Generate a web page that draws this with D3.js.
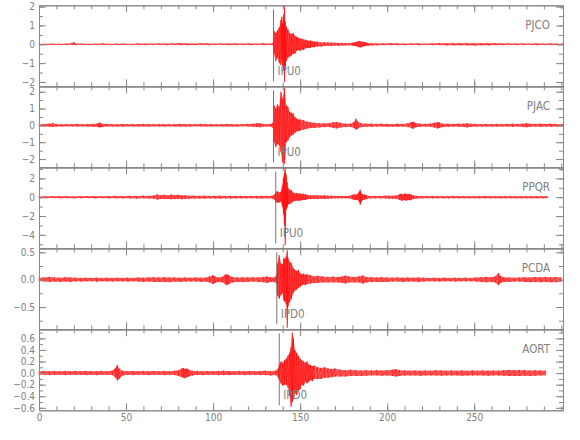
<!DOCTYPE html>
<html>
<head>
<meta charset="utf-8">
<script src="https://cdn.jsdelivr.net/npm/d3@7"></script>
<style>
  body { margin: 0; background: #fff; }
  text { font-family: "DejaVu Sans Condensed", "Liberation Sans Narrow", Roboto, sans-serif; font-weight: 300; fill: #808080; }
</style>
</head>
<body>
<svg width="580" height="440"></svg>
<script>
// station names, top to bottom
const STATIONS = ["PJCO", "PJAC", "PPQR", "PCDA", "AORT"];

// phase picks (seconds) and their labels
const PICK_TIMES = [134.7, 134.7, 136.0, 136.6, 138.0];
const PICK_LABELS = ["IPU0", "IPU0", "IPU0", "IPD0", "IPD0"];

// axis ranges and ticks
const X_DOMAIN = [0, 301];
const X_TICKS = [0, 50, 100, 150, 200, 250];
const X_MINOR = d3.range(0, 301, 10);
const Y_DOMAINS = [[-2.23, 2.07], [-2.49, 2.32], [-5.43, 3.18], [-0.907, 0.574], [-0.643, 0.757]];
const Y_TICKS = [
  [-2, -1, 0, 1, 2],
  [-2, -1, 0, 1, 2],
  [-4, -2, 0, 2],
  [-0.5, 0, 0.5],
  [-0.6, -0.4, -0.2, 0, 0.2, 0.4, 0.6]
];
const Y_MINOR = [
  [-2, -1.5, -1, -0.5, 0, 0.5, 1, 1.5, 2],
  [-2, -1.5, -1, -0.5, 0, 0.5, 1, 1.5, 2],
  [-5, -4, -3, -2, -1, 0, 1, 2, 3],
  [-0.75, -0.5, -0.25, 0, 0.25, 0.5],
  [-0.6, -0.5, -0.4, -0.3, -0.2, -0.1, 0, 0.1, 0.2, 0.3, 0.4, 0.5, 0.6, 0.7]
];

// traces: [time, max, min] per window
const PJCO = [[0,.03,-.03],[4,.02,-.03],[8,.03,-.02],[12,.02,-.03],[16,.03,-.03],[19,.06,-.03],[20,.12,-.04],[21,.04,-.03],[25,.03,-.02],[29,.02,-.03],[33,.03,-.03],[37,.04,-.02],[41,.02,-.03],[45,.03,-.03],[49,.03,-.02],[53,.02,-.03],[57,.04,-.03],[61,.03,-.04],[65,.03,-.03],[69,.04,-.03],[73,.03,-.04],[77,.04,-.03],[81,.05,-.04],[85,.04,-.04],[89,.03,-.04],[93,.05,-.03],[97,.04,-.04],[101,.03,-.03],[105,.04,-.03],[109,.03,-.04],[113,.04,-.03],[117,.03,-.03],[121,.04,-.04],[125,.03,-.03],[129,.04,-.04],[133,.03,-.03],[134.5,.05,-.04],
  [135,.7,-.5],[136,.6,-.9],[137,.75,-.7],[138,.9,-1.0],[139,1.3,-1.1],[139.5,1.47,-.8],[140,1.1,-1.16],[140.6,1.6,-1.4],[141,2.05,-2.0],[141.5,1.2,-1.3],[142,.95,-.9],[143,.8,-.72],[144,.6,-.65],[145,.55,-.6],[146,.6,-.5],[147,.45,-.5],[148,.4,-.35],[149,.35,-.3],[150,.3,-.35],[151,.3,-.28],[152,.25,-.3],[153,.24,-.22],[154,.22,-.2],[155,.18,-.2],[156,.2,-.18],[157,.16,-.15],[158,.15,-.16],[159,.14,-.12],[160,.14,-.12],[162,.1,-.12],[164,.11,-.09],[166,.1,-.08],[168,.08,-.09],[170,.08,-.07],[172,.07,-.08],[174,.07,-.06],[176,.06,-.06],[178,.06,-.05],[180,.08,-.07],[181,.1,-.09],[182,.12,-.1],[183,.15,-.13],[184,.18,-.16],[185,.15,-.17],[186,.13,-.12],[187,.12,-.1],[188,.09,-.08],[189,.07,-.08],[191,.05,-.05],[194,.04,-.05],[198,.04,-.04],[202,.05,-.04],[206,.04,-.04],[210,.03,-.04],[214,.04,-.03],[218,.04,-.04],[222,.03,-.03],[226,.04,-.04],[230,.05,-.04],[234,.05,-.05],[238,.06,-.05],[242,.05,-.05],[246,.06,-.05],[250,.05,-.06],[254,.05,-.05],[258,.06,-.05],[262,.05,-.04],[266,.04,-.04],[270,.04,-.03],[274,.03,-.04],[278,.04,-.03],[282,.03,-.03],[286,.04,-.04],[290,.03,-.03],[294,.04,-.03],[298,.03,-.04],[301,.03,-.03]];

const PJAC = [[0,.06,-.05],[3,.07,-.06],[6,.1,-.08],[8,.13,-.1],[10,.07,-.06],[13,.06,-.07],[16,.07,-.05],[19,.06,-.06],[22,.08,-.07],[25,.06,-.05],[28,.07,-.06],[31,.08,-.08],[34,.12,-.1],[35,.17,-.12],[36,.1,-.1],[39,.08,-.07],[42,.07,-.06],[45,.06,-.06],[48,.08,-.07],[51,.06,-.05],[54,.07,-.06],[57,.06,-.06],[60,.08,-.06],[63,.07,-.07],[66,.06,-.05],[69,.07,-.06],[72,.06,-.06],[75,.07,-.05],[78,.06,-.06],[81,.08,-.07],[84,.07,-.06],[87,.06,-.06],[90,.07,-.05],[93,.08,-.06],[96,.06,-.06],[99,.07,-.07],[102,.06,-.05],[105,.07,-.06],[108,.08,-.07],[111,.07,-.06],[114,.06,-.06],[117,.07,-.05],[120,.08,-.07],[123,.09,-.08],[125,.12,-.1],[127,.13,-.11],[129,.08,-.07],[131,.07,-.06],[133,.08,-.07],[134.5,.15,-.15],
  [135,1.2,-1.0],[136,1.0,-1.3],[137,1.24,-1.1],[138,1.1,-1.2],[139,2.0,-1.6],[140,1.6,-2.2],[141,2.25,-2.3],[142,1.2,-1.0],[143,1.1,-.9],[144,.8,-.7],[145,.75,-.6],[146,.7,-.55],[147,.5,-.45],[148,.4,-.35],[149,.35,-.35],[150,.35,-.3],[152,.3,-.25],[154,.22,-.2],[156,.18,-.15],[158,.15,-.15],[161,.13,-.12],[164,.12,-.1],[167,.12,-.1],[169,.18,-.15],[171,.2,-.18],[173,.15,-.12],[176,.1,-.1],[179,.1,-.08],[181,.2,-.15],[182,.4,-.25],[183,.25,-.2],[185,.12,-.1],[188,.1,-.08],
  [191,.09,-.08],[194,.08,-.07],[197,.09,-.07],[200,.08,-.08],[203,.07,-.07],[206,.09,-.08],[209,.08,-.07],[212,.12,-.1],[214,.2,-.17],[215,.22,-.2],[216,.15,-.12],[219,.09,-.08],[222,.08,-.07],[225,.1,-.08],[227,.16,-.13],[229,.2,-.18],[230,.17,-.15],[232,.1,-.09],[235,.09,-.08],[238,.08,-.07],[241,.09,-.08],[244,.1,-.09],[246,.13,-.12],[248,.1,-.08],[251,.08,-.07],[254,.07,-.07],[257,.08,-.06],[260,.07,-.07],[263,.08,-.07],[266,.07,-.06],[269,.08,-.07],[272,.09,-.08],[275,.08,-.07],[278,.1,-.09],[280,.13,-.11],[282,.09,-.08],[285,.08,-.07],[288,.09,-.08],[291,.08,-.07],[294,.09,-.08],[297,.08,-.07],[301,.07,-.07]];

const PPQR = [[0,.1,-.1],[4,.08,-.09],[8,.1,-.08],[12,.09,-.1],[16,.1,-.09],[20,.08,-.1],[24,.1,-.09],[28,.09,-.08],[32,.1,-.1],[36,.09,-.09],[40,.1,-.1],[44,.12,-.1],[48,.1,-.11],[52,.14,-.12],[56,.12,-.13],[60,.15,-.12],[63,.13,-.14],[66,.18,-.15],[68,.3,-.25],[70,.2,-.18],[72,.25,-.2],[74,.18,-.2],[76,.28,-.22],[78,.2,-.2],[80,.25,-.18],[82,.2,-.22],[84,.22,-.18],[86,.15,-.15],[89,.16,-.14],[92,.14,-.13],[95,.15,-.14],[98,.13,-.12],[101,.14,-.13],[104,.15,-.14],[107,.13,-.12],[110,.14,-.13],[113,.12,-.12],[116,.13,-.12],[119,.12,-.11],[122,.13,-.12],[125,.12,-.12],[128,.14,-.13],[131,.13,-.12],[134,.15,-.14],[135.5,.3,-.3],
  [136,.55,-.5],[137,.64,-.6],[138,.5,-.55],[139,.6,-.5],[139.8,1.2,-1.0],[140.4,2.1,-1.85],[141,2.6,-3.0],[141.4,3.15,-5.1],[142,2.4,-1.3],[142.6,1.6,-1.1],[143,1.0,-.8],[144,.8,-.7],[145,.75,-.65],[146,.5,-.45],[147,.4,-.4],[148,.45,-.35],[149,.38,-.4],[150,.4,-.35],[151,.35,-.32],[152,.38,-.3],[153,.3,-.3],[154,.25,-.22],[156,.2,-.2],[158,.22,-.18],[160,.2,-.2],[162,.18,-.16],[164,.2,-.18],[166,.16,-.15],[168,.15,-.14],[170,.13,-.12],[172,.12,-.12],[174,.13,-.11],[176,.12,-.12],[178,.13,-.12],[180,.25,-.22],[181,.3,-.28],[182,.28,-.3],[183,.35,-.3],[184,.6,-.5],[184.5,.8,-.8],[185,.5,-.55],[186,.3,-.3],[187,.28,-.25],[188,.2,-.2],
  [190,.13,-.12],[193,.12,-.12],[196,.13,-.12],[199,.15,-.14],[201,.16,-.15],[203,.15,-.16],[205,.17,-.15],[207,.3,-.28],[208,.38,-.35],[209,.3,-.36],[210,.4,-.3],[211,.35,-.38],[212,.32,-.3],[213,.36,-.33],[214,.25,-.25],[215,.2,-.2],[217,.14,-.13],[220,.12,-.12],[223,.11,-.1],[226,.12,-.11],[229,.1,-.1],[232,.11,-.1],[235,.1,-.11],[238,.12,-.1],[241,.1,-.1],[244,.11,-.1],[247,.1,-.1],[250,.11,-.1],[253,.1,-.11],[256,.12,-.1],[259,.1,-.1],[262,.11,-.1],[265,.1,-.1],[268,.11,-.1],[271,.1,-.1],[274,.1,-.11],[277,.11,-.1],[280,.1,-.1],[283,.11,-.1],[286,.1,-.1],[289,.1,-.1],[292,.1,-.1]];

const PCDA = [[0,.035,-.03],[3,.04,-.035],[6,.05,-.04],[9,.04,-.035],[12,.035,-.04],[15,.045,-.035],[18,.04,-.04],[21,.035,-.03],[24,.03,-.035],[27,.035,-.03],[30,.03,-.03],[33,.035,-.035],[36,.03,-.03],[39,.035,-.03],[42,.03,-.035],[45,.035,-.03],[48,.03,-.03],[51,.035,-.035],[54,.03,-.03],[57,.04,-.035],[60,.035,-.04],[63,.04,-.035],[66,.045,-.04],[69,.04,-.04],[72,.045,-.04],[75,.04,-.045],[78,.04,-.035],[81,.035,-.04],[84,.04,-.035],[87,.035,-.035],[90,.04,-.035],[93,.035,-.04],[96,.04,-.035],[98,.06,-.05],[100,.08,-.08],[101,.06,-.06],[103,.04,-.04],[105,.05,-.045],[107,.09,-.08],[108,.1,-.1],[109,.08,-.08],[111,.05,-.05],[114,.04,-.04],[117,.045,-.04],[120,.04,-.04],[123,.045,-.035],[126,.04,-.04],[129,.05,-.045],[131,.06,-.06],[133,.045,-.04],[135,.04,-.04],[136.5,.08,-.07],
  [137,.3,-.29],[138,.45,-.35],[139,.3,-.28],[140,.28,-.25],[140.6,.4,-.38],[141.2,.38,-.4],[142,.42,-.45],[142.6,.54,-.88],[143,.4,-.5],[144,.33,-.41],[145,.3,-.35],[146,.22,-.25],[147,.18,-.2],[148,.16,-.18],[149,.18,-.15],[150,.12,-.13],[151,.1,-.1],[152,.11,-.09],[153,.09,-.1],[154,.1,-.08],[156,.08,-.07],[158,.06,-.06],[160,.07,-.06],[163,.06,-.05],[166,.05,-.05],[169,.055,-.05],[172,.05,-.05],[174,.06,-.055],[176,.075,-.07],[178,.06,-.05],[181,.05,-.05],[184,.06,-.05],[186,.075,-.07],[188,.05,-.05],
  [191,.045,-.04],[194,.04,-.04],[197,.045,-.04],[200,.04,-.04],[203,.035,-.035],[206,.04,-.035],[209,.035,-.04],[212,.04,-.035],[215,.035,-.035],[218,.04,-.04],[221,.035,-.035],[224,.03,-.03],[227,.035,-.03],[230,.03,-.035],[233,.035,-.03],[236,.03,-.03],[239,.035,-.035],[242,.03,-.03],[245,.035,-.03],[248,.03,-.03],[251,.04,-.035],[254,.045,-.04],[257,.05,-.045],[260,.045,-.04],[262,.06,-.05],[264,.12,-.1],[265,.07,-.06],[267,.045,-.04],[270,.04,-.04],[273,.035,-.035],[276,.04,-.035],[279,.045,-.04],[282,.04,-.045],[285,.05,-.04],[288,.045,-.045],[291,.05,-.04],[294,.045,-.045],[297,.05,-.045],[300,.04,-.04]];

const AORT = [[0,.03,-.03],[3,.035,-.03],[6,.03,-.035],[9,.035,-.03],[12,.03,-.03],[15,.035,-.035],[18,.03,-.03],[21,.035,-.03],[24,.03,-.03],[27,.035,-.035],[30,.03,-.03],[33,.03,-.035],[36,.035,-.03],[39,.03,-.03],[42,.04,-.035],[44,.09,-.08],[45,.14,-.13],[46,.08,-.1],[48,.04,-.04],[51,.03,-.03],[54,.035,-.035],[57,.03,-.03],[60,.035,-.03],[63,.03,-.035],[66,.035,-.03],[69,.03,-.03],[72,.035,-.035],[75,.03,-.03],[78,.04,-.035],[80,.05,-.05],[82,.08,-.07],[83,.09,-.08],[84,.07,-.09],[85,.08,-.07],[86,.06,-.06],[88,.04,-.04],[91,.035,-.03],[94,.03,-.035],[97,.035,-.03],[100,.03,-.03],[103,.035,-.035],[106,.04,-.035],[109,.035,-.035],[112,.03,-.03],[115,.035,-.03],[118,.03,-.035],[121,.035,-.03],[124,.03,-.03],[127,.035,-.035],[130,.04,-.035],[133,.035,-.04],[136,.04,-.035],[137.5,.08,-.08],
  [138,.15,-.12],[139,.2,-.18],[140,.18,-.22],[141,.22,-.2],[142,.25,-.2],[143,.3,-.25],[144,.35,-.4],[144.8,.45,-.58],[145.5,.7,-.5],[146.2,.6,-.45],[147,.4,-.35],[148,.35,-.38],[149,.3,-.3],[150,.25,-.28],[151,.22,-.2],[152,.2,-.22],[153,.18,-.15],[154,.2,-.18],[155,.15,-.15],[156,.14,-.12],[157,.12,-.14],[158,.13,-.1],[160,.1,-.1],[162,.09,-.1],[164,.1,-.08],[166,.08,-.08],[168,.07,-.07],[170,.08,-.06],[173,.06,-.06],[176,.05,-.06],[179,.06,-.05],[182,.05,-.05],[185,.045,-.05],[188,.05,-.045],
  [191,.045,-.04],[194,.05,-.04],[197,.045,-.045],[200,.05,-.04],[203,.06,-.05],[205,.07,-.06],[207,.05,-.05],[210,.045,-.04],[213,.04,-.04],[216,.045,-.04],[219,.04,-.045],[222,.045,-.04],[225,.04,-.04],[228,.05,-.04],[231,.045,-.045],[234,.04,-.04],[237,.045,-.04],[240,.04,-.04],[243,.045,-.045],[246,.04,-.04],[249,.045,-.04],[252,.04,-.04],[255,.045,-.04],[258,.04,-.045],[261,.045,-.04],[264,.04,-.04],[267,.05,-.045],[270,.055,-.05],[273,.05,-.05],[276,.055,-.05],[279,.05,-.045],[282,.045,-.05],[285,.05,-.045],[288,.045,-.04],[291,.04,-.04]];

const TRACES = [PJCO, PJAC, PPQR, PCDA, AORT];

// layout
const left = 39, right = 563;
const top0 = 5.3, panelH = 81;
const axisColor = "#888";
const font = "'DejaVu Sans Condensed','Liberation Sans Narrow',Roboto,sans-serif";

const svg = d3.select("svg");
const xScale = d3.scaleLinear().domain(X_DOMAIN).range([left, right]);

STATIONS.forEach((name, i) => {
  const y0 = top0 + i * panelH;
  const y1 = y0 + panelH;
  const yScale = d3.scaleLinear().domain(Y_DOMAINS[i]).range([y1, y0]);
  const g = svg.append("g");
  const trace = TRACES[i];
  const fmt = i >= 3 ? d3.format(".1f") : d3.format("d");

  // envelope, then min/max trace line
  g.append("path")
    .datum(trace)
    .attr("d", d3.area()
      .x(d => xScale(d[0]))
      .y0(d => yScale(d[2]))
      .y1(d => yScale(d[1])))
    .attr("fill", "#ff1a1a")
    .attr("fill-opacity", 0.7);

  const zig = trace.flatMap(d => [[d[0], d[1]], [d[0], d[2]]]);
  g.append("path")
    .datum(zig)
    .attr("d", d3.line().x(d => xScale(d[0])).y(d => yScale(d[1])))
    .attr("fill", "none")
    .attr("stroke", "#ff0000")
    .attr("stroke-opacity", 0.8)
    .attr("stroke-width", 0.7);

  // pick marker
  const px = xScale(PICK_TIMES[i]);
  g.append("line")
    .attr("x1", px).attr("x2", px)
    .attr("y1", y0 + 4).attr("y2", y1 - 5)
    .attr("stroke", "#666")
    .attr("stroke-width", 0.9);
  g.append("text")
    .attr("x", px + 4)
    .attr("y", y1 - 11)
    .attr("font-size", 11.5)
    .text(PICK_LABELS[i]);

  // station name
  g.append("text")
    .attr("x", 550)
    .attr("y", y0 + 24)
    .attr("text-anchor", "end")
    .attr("font-size", 11.5)
    .text(name);

  // axes: major ticks
  const axes = [
    [d3.axisLeft(yScale).tickValues(Y_TICKS[i]).tickFormat(fmt), `translate(${left},0)`],
    [d3.axisRight(yScale).tickValues(Y_TICKS[i]).tickFormat(""), `translate(${right},0)`],
    [d3.axisTop(xScale).tickValues(X_TICKS).tickFormat(""), `translate(0,${y0})`],
    [d3.axisBottom(xScale).tickValues(X_TICKS).tickFormat(i === 4 ? d3.format("d") : ""), `translate(0,${y1})`]
  ];
  axes.forEach(([ax, tr]) => {
    svg.append("g")
      .attr("transform", tr)
      .attr("color", axisColor)
      .call(ax.tickSizeInner(-7).tickSizeOuter(0).tickPadding(4))
      .call(s => s.selectAll("text").attr("font-size", 10).style("font-family", font));
  });

  // minor ticks
  const minors = [
    [d3.axisLeft(yScale).tickValues(Y_MINOR[i]), `translate(${left},0)`],
    [d3.axisRight(yScale).tickValues(Y_MINOR[i]), `translate(${right},0)`],
    [d3.axisTop(xScale).tickValues(X_MINOR), `translate(0,${y0})`],
    [d3.axisBottom(xScale).tickValues(X_MINOR), `translate(0,${y1})`]
  ];
  minors.forEach(([ax, tr]) => {
    svg.append("g")
      .attr("transform", tr)
      .attr("color", axisColor)
      .call(ax.tickSizeInner(-4).tickSizeOuter(0).tickFormat(""));
  });
});
</script>
</body>
</html>
